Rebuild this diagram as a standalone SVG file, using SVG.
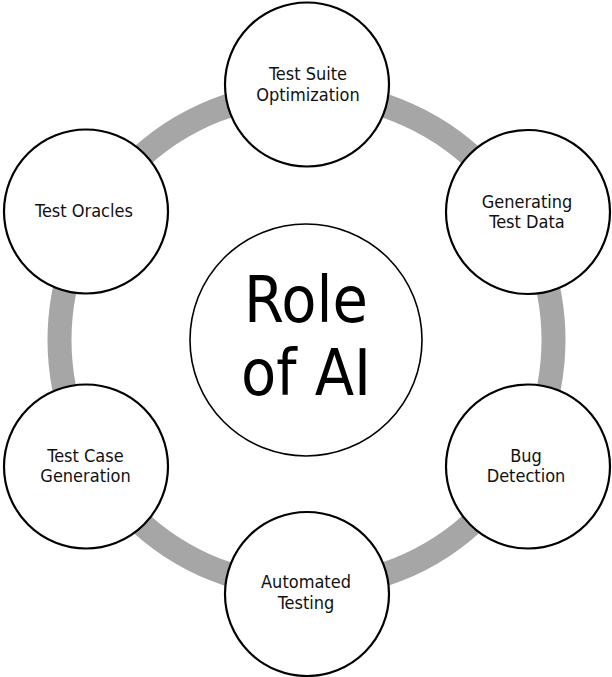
<svg xmlns="http://www.w3.org/2000/svg" width="612" height="677" viewBox="0 0 612 677">
<style>
.ring{fill:none;stroke:#A6A6A6;stroke-width:24}
.node{fill:#fff;stroke:#000;stroke-width:2.2}
.hub{fill:#fff;stroke:#000;stroke-width:1.6}
.t{font-family:"DejaVu Sans Condensed","DejaVu Sans",sans-serif;font-stretch:condensed;font-size:18px;fill:#111;text-anchor:middle}
.big{font-family:"DejaVu Sans Condensed","DejaVu Sans",sans-serif;font-stretch:condensed;font-size:64px;fill:#000;text-anchor:middle}
</style>
<rect width="612" height="677" fill="#fff"/>
<g id="connectors">
<circle class="ring" cx="306.5" cy="340" r="247"/>
</g>
<g id="hub">
<circle class="hub" cx="306" cy="340" r="116"/>
<text class="big" x="306" y="322">Role</text>
<text class="big" x="306" y="395">of AI</text>
</g>
<g id="n-suite">
<circle class="node" cx="307" cy="84.5" r="82"/>
<text class="t" x="308" y="80">Test Suite</text>
<text class="t" x="308" y="101">Optimization</text>
</g>
<g id="n-data">
<circle class="node" cx="528" cy="212" r="82"/>
<text class="t" x="527" y="208">Generating</text>
<text class="t" x="527" y="228">Test Data</text>
</g>
<g id="n-bug">
<circle class="node" cx="528" cy="466.5" r="82"/>
<text class="t" x="526" y="462">Bug</text>
<text class="t" x="526" y="482">Detection</text>
</g>
<g id="n-auto">
<circle class="node" cx="307" cy="594" r="82"/>
<text class="t" x="306" y="588">Automated</text>
<text class="t" x="306" y="609">Testing</text>
</g>
<g id="n-case">
<circle class="node" cx="86" cy="466.5" r="82"/>
<text class="t" x="85.5" y="462">Test Case</text>
<text class="t" x="85.5" y="482">Generation</text>
</g>
<g id="n-oracles">
<circle class="node" cx="86" cy="211.5" r="82"/>
<text class="t" x="84" y="217">Test Oracles</text>
</g>
</svg>
